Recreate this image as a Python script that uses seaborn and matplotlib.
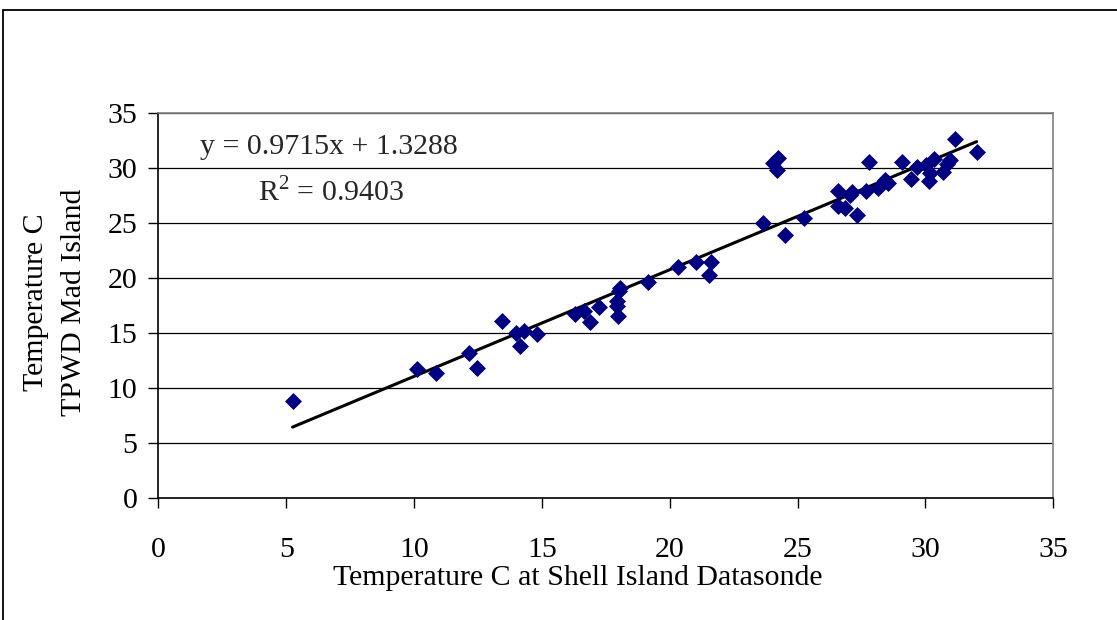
import numpy as np
import pandas as pd
import matplotlib
matplotlib.use("Agg")
import matplotlib.pyplot as plt
import seaborn as sns
from matplotlib.patches import Rectangle

# ---- data ----
shell_island = [5.25, 10.1, 10.86, 12.16, 12.45, 13.44, 13.98, 14.30, 14.15, 14.80,
                16.30, 16.66, 16.88, 17.25, 17.93, 17.93, 17.97, 18.06, 18.0, 19.16,
                20.34, 21.02, 21.60, 21.55, 23.66, 24.05, 24.25, 24.18, 24.51, 25.27,
                26.59, 26.59, 26.86, 27.14, 27.05, 27.31, 27.68, 27.79, 28.16, 28.42,
                28.55, 29.10, 29.44, 29.68, 30.02, 30.18, 30.15, 30.34, 30.70, 30.86,
                30.96, 31.16, 32.0]
mad_island = [8.83, 11.69, 11.33, 13.15, 11.78, 16.07, 14.97, 15.15, 13.82, 14.91,
              16.73, 16.97, 16.03, 17.40, 17.91, 17.46, 16.55, 19.07, 18.85, 19.67,
              21.04, 21.44, 21.44, 20.28, 25.05, 30.45, 30.91, 29.85, 23.93, 25.45,
              27.96, 26.57, 26.41, 27.87, 27.57, 25.75, 27.96, 30.55, 28.18, 28.93,
              28.69, 30.55, 29.03, 30.15, 30.30, 29.60, 28.87, 30.82, 29.69, 30.39,
              30.76, 32.64, 31.51]
slope = 0.9715
intercept = 1.3288
r_squared = 0.9403
ticks = [0, 5, 10, 15, 20, 25, 30, 35]

df = pd.DataFrame({"x": shell_island, "y": mad_island})
x_fit = np.array([min(shell_island), max(shell_island)])
fit_df = pd.DataFrame({"x": x_fit, "y": slope * x_fit + intercept})

sns.set_theme(style="white")
plt.rcParams['font.family'] = ['Liberation Serif', 'DejaVu Serif']
plt.rcParams['mathtext.fontset'] = 'custom'
plt.rcParams['mathtext.rm'] = 'Liberation Serif'

FS = 21.5

fig = plt.figure(figsize=(11.17, 6.20), dpi=100)
ax = fig.add_axes([158.3 / 1117, 1 - 497.7 / 620, 895 / 1117, 384.4 / 620])

# outer chart border
fig.patches.append(Rectangle((3 / 1117, -0.2), 1.5, 1.2 - 10 / 620,
                             transform=fig.transFigure, fill=False,
                             edgecolor='black', lw=1.3, clip_on=False))

for t in ticks[1:]:
    ax.axhline(t, color='black', lw=0.9, zorder=0)

sns.lineplot(data=fit_df, x="x", y="y", ax=ax, color='black', lw=2.2, zorder=2)
sns.scatterplot(data=df, x="x", y="y", ax=ax, marker='D', s=75, color='#000080',
                edgecolor='#000080', linewidth=0, zorder=3)

ax.set_xlim(0, 35)
ax.set_ylim(0, 35)
ax.set_xticks(ticks)
ax.set_yticks(ticks)
ax.tick_params(axis='both', which='both', direction='out', length=7, width=1,
               color='black', labelsize=FS, labelcolor='black')
ax.tick_params(axis='x', bottom=True, pad=21)
ax.tick_params(axis='y', left=True, pad=8)

for side in ['left', 'bottom']:
    ax.spines[side].set_color('black')
    ax.spines[side].set_linewidth(1.2)
for side in ['top', 'right']:
    ax.spines[side].set_color('#808080')
    ax.spines[side].set_linewidth(1.2)

ax.set_xlabel("Temperature C at Shell Island Datasonde", fontsize=FS, color='black')
ax.set_ylabel("Temperature C\nTPWD Mad Island", fontsize=FS, color='black', linespacing=1.6)
ax.xaxis.set_label_coords((577.5 - 158.3) / 895, (497.7 - 565) / 384.4)
ax.xaxis.label.set_va('top')
ax.yaxis.set_label_coords((87 - 158.3) / 895, (497.7 - 302.5) / 384.4)

ax.text(1.63, 31.94, f"y = {slope}x + {intercept}", fontsize=FS, va='center', ha='left')
ax.text(3.9, 27.84, f"R$^{{2}}$ = {r_squared}", fontsize=FS, va='center', ha='left')

fig.savefig("out.png", dpi=100)
